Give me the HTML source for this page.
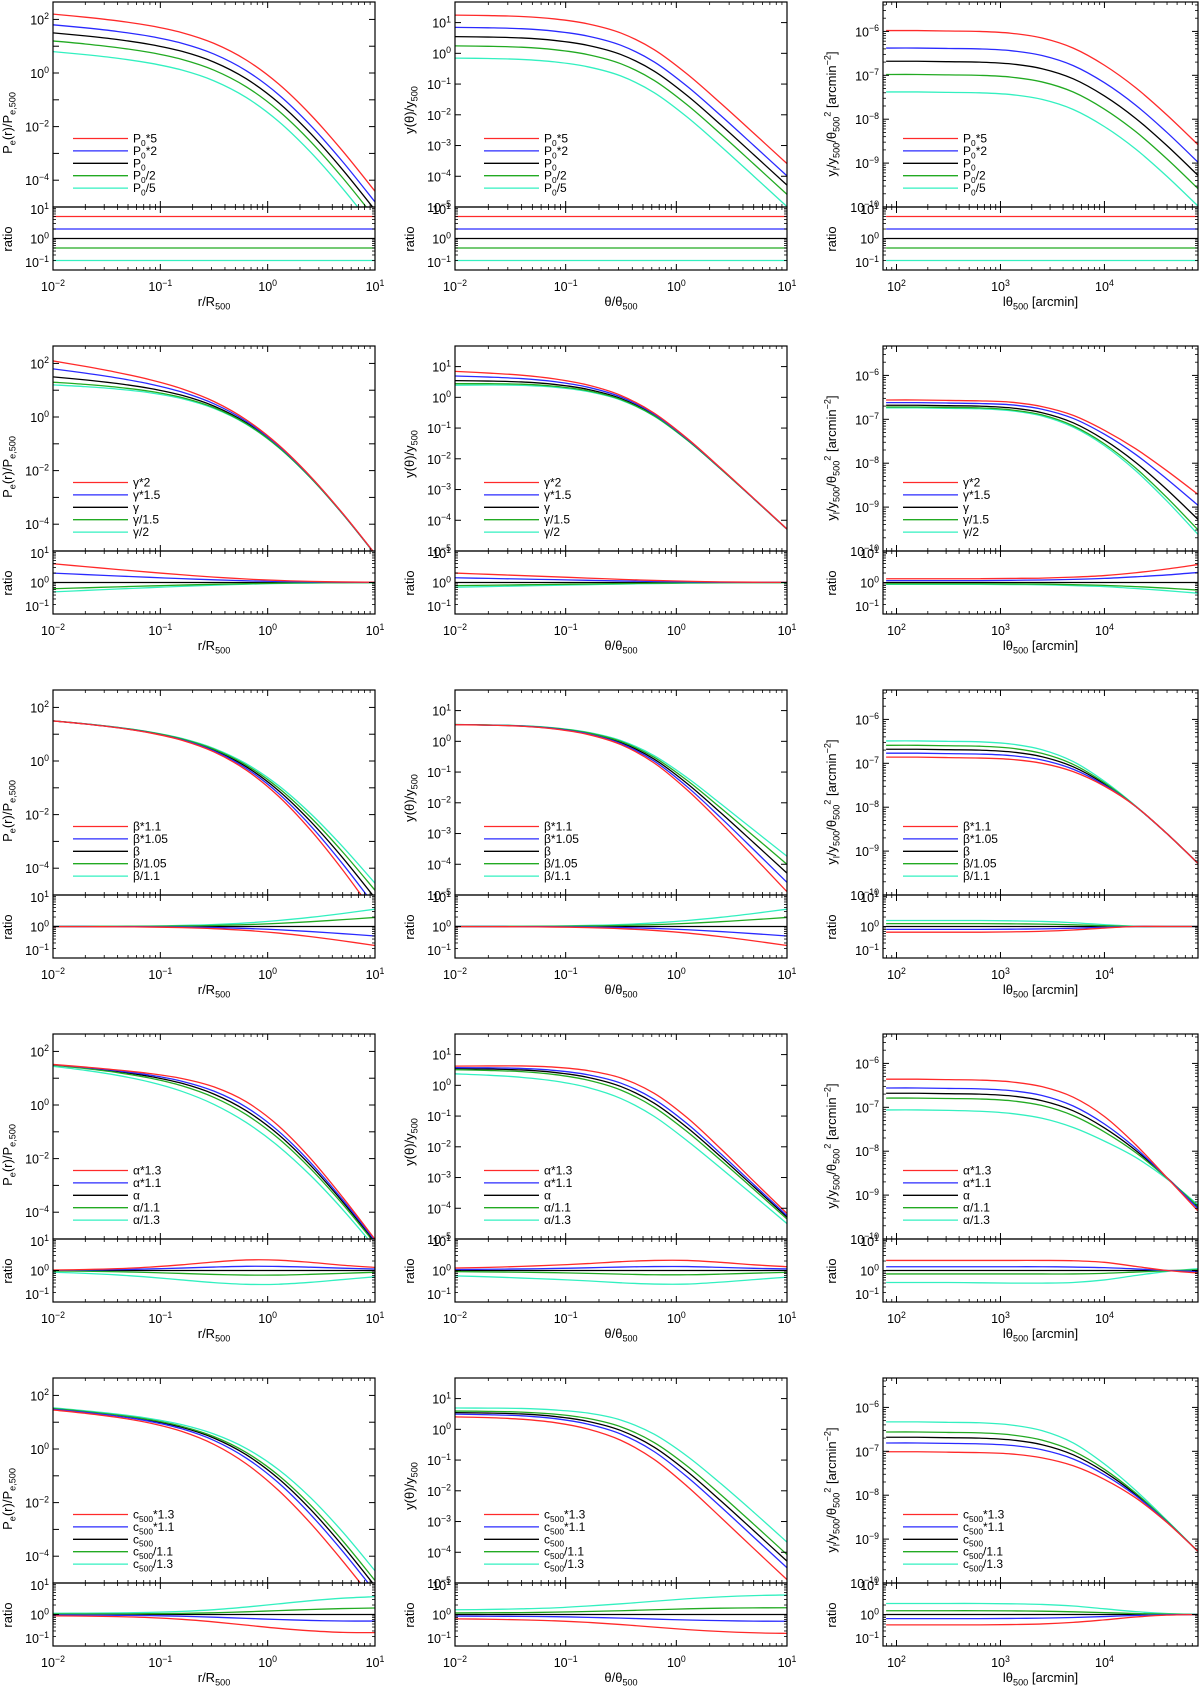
<!DOCTYPE html>
<html><head><meta charset="utf-8">
<style>
html,body{margin:0;padding:0;background:#fff;}
svg{display:block;font-family:"Liberation Sans",sans-serif;}
</style></head>
<body>
<svg id="fig" width="1200" height="1687" viewBox="0 0 1200 1687" xmlns="http://www.w3.org/2000/svg"></svg>
<script>
// ---------------- data (log10 values) ----------------
const xGrid = [-2,-1.7,-1.4,-1.1,-0.8,-0.5,-0.2,0.1,0.4,0.7,1.0];
const lGrid = [1.9,2.2,2.5,2.8,3.1,3.4,3.7,4.0,4.3,4.6,4.9];
const basePressure = [1.498,1.385,1.249,1.070,0.810,0.407,-0.213,-1.101,-2.256,-3.617,-5.112];
const baseComptonY = [0.544,0.53,0.50,0.42,0.26,-0.04,-0.58,-1.38,-2.32,-3.30,-4.29];
const baseYl = [-6.68,-6.68,-6.69,-6.70,-6.74,-6.85,-7.08,-7.47,-7.98,-8.60,-9.28];
const zeros = [0,0,0,0,0,0,0,0,0,0,0];

// row 1: P0
const p0Times5 = [0.699,0.699,0.699,0.699,0.699,0.699,0.699,0.699,0.699,0.699,0.699];
const p0Times2 = [0.301,0.301,0.301,0.301,0.301,0.301,0.301,0.301,0.301,0.301,0.301];
const p0Over2 = [-0.301,-0.301,-0.301,-0.301,-0.301,-0.301,-0.301,-0.301,-0.301,-0.301,-0.301];
const p0Over5 = [-0.699,-0.699,-0.699,-0.699,-0.699,-0.699,-0.699,-0.699,-0.699,-0.699,-0.699];

// row 2: gamma
const gamP_red = [.595,.504,.414,.327,.245,.171,.110,.065,.035,.018,.009];
const gamP_blue = [.298,.252,.207,.164,.122,.085,.055,.032,.018,.009,.005];
const gamP_green = [-.199,-.168,-.138,-.109,-.082,-.057,-.037,-.022,-.012,-.006,-.003];
const gamP_cyan = [-.298,-.252,-.207,-.164,-.122,-.085,-.055,-.032,-.018,-.009,-.005];
const gamY_red = [.30,.26,.22,.18,.14,.10,.065,.04,.02,.01,.005];
const gamY_blue = [.15,.13,.11,.09,.07,.05,.033,.02,.01,.005,.003];
const gamY_green = [-.10,-.087,-.073,-.06,-.047,-.033,-.022,-.013,-.007,-.003,-.002];
const gamY_cyan = [-.15,-.13,-.11,-.09,-.07,-.05,-.033,-.02,-.01,-.005,-.003];
const gamL_red = [.12,.12,.12,.12,.13,.14,.17,.22,.31,.43,.57];
const gamL_blue = [.06,.06,.06,.06,.07,.08,.10,.13,.18,.24,.32];
const gamL_green = [-.04,-.04,-.04,-.04,-.045,-.05,-.07,-.09,-.13,-.18,-.24];
const gamL_cyan = [-.06,-.06,-.06,-.06,-.065,-.075,-.10,-.13,-.19,-.26,-.34];

// row 3: beta
const betP_red = [-.002,-.004,-.009,-.018,-.036,-.069,-.125,-.209,-.322,-.456,-.604];
const betP_blue = [-.001,-.002,-.004,-.009,-.018,-.034,-.062,-.104,-.161,-.228,-.302];
const betP_green = [.001,.002,.004,.009,.017,.033,.059,.100,.153,.217,.288];
const betP_cyan = [.002,.004,.008,.016,.033,.062,.113,.190,.292,.414,.550];
const betL_red = [-.18,-.18,-.18,-.18,-.17,-.15,-.11,-.05,0,0,0];
const betL_blue = [-.09,-.09,-.09,-.09,-.085,-.075,-.055,-.025,0,0,0];
const betL_green = [.09,.09,.09,.09,.085,.075,.055,.025,0,0,0];
const betL_cyan = [.19,.19,.19,.19,.18,.16,.12,.06,.01,0,0];

// row 4: alpha
const alpP_red = [.016,.031,.059,.107,.181,.269,.335,.328,.257,.167,.100];
const alpP_blue = [.009,.016,.028,.049,.078,.110,.133,.129,.105,.074,.047];
const alpP_green = [-.014,-.024,-.039,-.063,-.093,-.125,-.145,-.145,-.121,-.090,-.057];
const alpP_cyan = [-.056,-.090,-.141,-.212,-.299,-.385,-.438,-.436,-.375,-.287,-.200];
const alpY_red = [.08,.10,.13,.17,.22,.28,.32,.32,.26,.18,.12];
const alpY_blue = [.03,.04,.05,.065,.085,.11,.125,.125,.10,.07,.05];
const alpY_green = [-.035,-.045,-.055,-.07,-.09,-.115,-.135,-.135,-.115,-.085,-.06];
const alpY_cyan = [-.17,-.20,-.24,-.28,-.33,-.39,-.43,-.43,-.37,-.29,-.21];
const alpL_red = [.32,.32,.32,.32,.32,.32,.31,.26,.13,0,-.08];
const alpL_blue = [.12,.12,.12,.12,.12,.12,.11,.09,.05,0,-.03];
const alpL_green = [-.11,-.11,-.11,-.11,-.11,-.11,-.11,-.09,-.05,-.01,.02];
const alpL_cyan = [-.38,-.38,-.38,-.39,-.40,-.40,-.38,-.30,-.16,-.03,.06];

// row 5: c500
const c5P_red = [-.043,-.052,-.068,-.099,-.153,-.236,-.337,-.439,-.517,-.568,-.576];
const c5P_blue = [-.016,-.019,-.025,-.036,-.056,-.086,-.123,-.159,-.188,-.206,-.209];
const c5P_green = [.014,.016,.019,.025,.036,.056,.086,.123,.159,.188,.206];
const c5P_cyan = [.040,.043,.052,.068,.099,.153,.236,.337,.439,.517,.568];
const c5Y_red = [-.14,-.15,-.17,-.20,-.25,-.32,-.40,-.48,-.54,-.58,-.60];
const c5Y_blue = [-.05,-.055,-.06,-.07,-.09,-.115,-.145,-.175,-.195,-.21,-.215];
const c5Y_green = [.05,.055,.06,.075,.095,.12,.15,.18,.20,.21,.215];
const c5Y_cyan = [.15,.16,.18,.21,.27,.34,.42,.50,.56,.60,.62];
const c5L_red = [-.33,-.33,-.33,-.33,-.32,-.30,-.25,-.17,-.08,-.02,0];
const c5L_blue = [-.13,-.13,-.13,-.13,-.125,-.115,-.095,-.065,-.03,-.01,0];
const c5L_green = [.12,.12,.12,.12,.115,.105,.085,.06,.03,.01,0];
const c5L_cyan = [.35,.35,.35,.35,.34,.32,.27,.18,.09,.03,0];

const legendParams = [["P","0"],["γ",""],["β",""],["α",""],["c","500"]];
const legendSuffixes = [["*5","*2","","/2","/5"],["*2","*1.5","","/1.5","/2"],["*1.1","*1.05","","/1.05","/1.1"],["*1.3","*1.1","","/1.1","/1.3"],["*1.3","*1.1","","/1.1","/1.3"]];
const rowKeys = ["p0","gamma","beta","alpha","c500"];

const ratioSets = [
  [[p0Times5,p0Times2,zeros,p0Over2,p0Over5],[p0Times5,p0Times2,zeros,p0Over2,p0Over5],[p0Times5,p0Times2,zeros,p0Over2,p0Over5]],
  [[gamP_red,gamP_blue,zeros,gamP_green,gamP_cyan],[gamY_red,gamY_blue,zeros,gamY_green,gamY_cyan],[gamL_red,gamL_blue,zeros,gamL_green,gamL_cyan]],
  [[betP_red,betP_blue,zeros,betP_green,betP_cyan],[betP_red,betP_blue,zeros,betP_green,betP_cyan],[betL_red,betL_blue,zeros,betL_green,betL_cyan]],
  [[alpP_red,alpP_blue,zeros,alpP_green,alpP_cyan],[alpY_red,alpY_blue,zeros,alpY_green,alpY_cyan],[alpL_red,alpL_blue,zeros,alpL_green,alpL_cyan]],
  [[c5P_red,c5P_blue,zeros,c5P_green,c5P_cyan],[c5Y_red,c5Y_blue,zeros,c5Y_green,c5Y_cyan],[c5L_red,c5L_blue,zeros,c5L_green,c5L_cyan]]
];
const bases = [basePressure, baseComptonY, baseYl];
const grids = [xGrid, xGrid, lGrid];

// ---------------- layout ----------------
const NS = "http://www.w3.org/2000/svg";
const svg = document.getElementById("fig");
const colors = ["#ff2a2a","#2a2aff","#000000","#22aa22","#33f0c0"];
const colorNames = ["red","blue","black","green","cyan"];
const cols = [
  {x0:53,x1:375,xr:[-2,1],yr:[-5,2.65],labs:[2,0,-2,-4],yMinor:false,xt:[-2,-1,0,1],legX:73,
   ytitle:[["P",""],["e","sub"],["(r)/P",""],["e,500","sub"]],ytx:12,yty:121,
   xtitle:[["r/R",""],["500","sub"]],rtx:12},
  {x0:455,x1:787,xr:[-2,1],yr:[-5,1.67],labs:[1,0,-1,-2,-3,-4,-5],yMinor:false,xt:[-2,-1,0,1],legX:484,
   ytitle:[["y(θ)/y",""],["500","sub"]],ytx:414,yty:108,
   xtitle:[["θ/θ",""],["500","sub"]],rtx:414},
  {x0:883,x1:1198,xr:[1.87,4.9],yr:[-10,-5.33],labs:[-6,-7,-8,-9,-10],yMinor:true,xt:[2,3,4],legX:903,
   ytitle:[["y",""],["l","sub"],["/y",""],["500","sub"],["/θ",""],["500","sub"],["2","sup"],[" [arcmin",""],["−2","sup"],["]",""]],ytx:836,yty:112,
   xtitle:[["lθ",""],["500","sub"],[" [arcmin]",""]],rtx:836}
];
const RR=[-1,1];

function el(tag, attrs, parent){
  const e=document.createElementNS(NS,tag);
  for(const k in attrs) e.setAttribute(k,attrs[k]);
  (parent||svg).appendChild(e);
  return e;
}
function richText(parent, x, y, segs, size, anchor, rot){
  const t=el("text",{x:x,y:y,"font-size":size,"text-anchor":anchor||"start",fill:"#000"},parent);
  if(rot) t.setAttribute("transform","rotate(-90 "+x+" "+y+")");
  let off=0;
  segs.forEach(s=>{
    const sp=document.createElementNS(NS,"tspan");
    const target = s[1]==="sub"?size*0.28:(s[1]==="sup"?-size*0.42:0);
    sp.setAttribute("dy",(target-off).toFixed(2));
    off=target;
    if(s[1]) sp.setAttribute("font-size",size*0.7);
    sp.textContent=s[0];
    t.appendChild(sp);
  });
  return t;
}
function expLabel(parent,x,y,e,anchor){
  const ex = e<0 ? "−"+(-e) : ""+e;
  return richText(parent,x,y,[["10",""],[ex,"sup"]],12.5,anchor);
}
function smoothPath(pts){
  let d="M"+pts[0][0].toFixed(2)+","+pts[0][1].toFixed(2);
  for(let i=0;i<pts.length-1;i++){
    const p0=pts[Math.max(0,i-1)],p1=pts[i],p2=pts[i+1],p3=pts[Math.min(pts.length-1,i+2)];
    const c1=[p1[0]+(p2[0]-p0[0])/6,p1[1]+(p2[1]-p0[1])/6];
    const c2=[p2[0]-(p3[0]-p1[0])/6,p2[1]-(p3[1]-p1[1])/6];
    d+=" C"+c1[0].toFixed(2)+","+c1[1].toFixed(2)+" "+c2[0].toFixed(2)+","+c2[1].toFixed(2)+" "+p2[0].toFixed(2)+","+p2[1].toFixed(2);
  }
  return d;
}
function ticksY(g,x0,x1,yTop,yBot,yr,minor){
  const sy=v=>yBot-(v-yr[0])/(yr[1]-yr[0])*(yBot-yTop);
  for(let e=Math.floor(yr[0]);e<=Math.ceil(yr[1]);e++){
    if(e>=yr[0]-1e-9&&e<=yr[1]+1e-9){
      const y=sy(e);
      el("line",{x1:x0,y1:y,x2:x0+6,y2:y,stroke:"#000","stroke-width":1},g);
      el("line",{x1:x1,y1:y,x2:x1-6,y2:y,stroke:"#000","stroke-width":1},g);
    }
    if(minor) for(let k=2;k<10;k++){
      const v=e+Math.log10(k);
      if(v>yr[0]&&v<yr[1]){
        const y=sy(v);
        el("line",{x1:x0,y1:y,x2:x0+3,y2:y,stroke:"#000","stroke-width":0.8},g);
        el("line",{x1:x1,y1:y,x2:x1-3,y2:y,stroke:"#000","stroke-width":0.8},g);
      }
    }
  }
}
function ticksX(g,x0,x1,yTop,yBot,xr){
  const sx=v=>x0+(v-xr[0])/(xr[1]-xr[0])*(x1-x0);
  for(let e=Math.floor(xr[0]);e<=Math.ceil(xr[1]);e++){
    if(e>=xr[0]-1e-9&&e<=xr[1]+1e-9){
      const x=sx(e);
      el("line",{x1:x,y1:yBot,x2:x,y2:yBot-6,stroke:"#000","stroke-width":1},g);
      el("line",{x1:x,y1:yTop,x2:x,y2:yTop+6,stroke:"#000","stroke-width":1},g);
    }
    for(let k=2;k<10;k++){
      const v=e+Math.log10(k);
      if(v>xr[0]&&v<xr[1]){
        const x=sx(v);
        el("line",{x1:x,y1:yBot,x2:x,y2:yBot-3,stroke:"#000","stroke-width":0.8},g);
        el("line",{x1:x,y1:yTop,x2:x,y2:yTop+3,stroke:"#000","stroke-width":0.8},g);
      }
    }
  }
}

let clipId=0;
for(let r=0;r<5;r++){
  const top=2+344*r, mainBot=top+205, ratBot=top+268;
  for(let c=0;c<3;c++){
    const C=cols[c];
    const g=el("g",{});
    
    
    const sx=v=>C.x0+(v-C.xr[0])/(C.xr[1]-C.xr[0])*(C.x1-C.x0);
    const syM=v=>mainBot-(v-C.yr[0])/(C.yr[1]-C.yr[0])*(mainBot-top);
    const syR=v=>ratBot-(v-RR[0])/(RR[1]-RR[0])*(ratBot-mainBot);
    const defs=el("defs",{},g);
    const cm=el("clipPath",{id:"cm"+clipId},defs);
    el("rect",{x:C.x0,y:top,width:C.x1-C.x0,height:mainBot-top},cm);
    const cr=el("clipPath",{id:"cr"+clipId},defs);
    el("rect",{x:C.x0,y:mainBot,width:C.x1-C.x0,height:ratBot-mainBot},cr);
    const gm=el("g",{"clip-path":"url(#cm"+clipId+")"},g);
    
    
    const gr=el("g",{"clip-path":"url(#cr"+clipId+")"},g);
    
    
    clipId++;
    const grid=grids[c], base=bases[c], rats=ratioSets[r][c];
    const order=[2,4,3,1,0];
    order.forEach(s=>{
      const ptsM=grid.map((xv,i)=>[sx(xv),syM(base[i]+rats[s][i])]);
      const pm=el("path",{d:smoothPath(ptsM),fill:"none",stroke:colors[s],"stroke-width":1.3},gm);
      
      
      const ptsR=grid.map((xv,i)=>[sx(xv),syR(rats[s][i])]);
      const pr=el("path",{d:smoothPath(ptsR),fill:"none",stroke:colors[s],"stroke-width":1.3},gr);
      
      
    });
    const fm=el("rect",{x:C.x0,y:top,width:C.x1-C.x0,height:mainBot-top,fill:"none",stroke:"#000","stroke-width":1.2},g);
    
    
    const fr=el("rect",{x:C.x0,y:mainBot,width:C.x1-C.x0,height:ratBot-mainBot,fill:"none",stroke:"#000","stroke-width":1.2},g);
    
    
    ticksY(g,C.x0,C.x1,top,mainBot,C.yr,C.yMinor);
    ticksY(g,C.x0,C.x1,mainBot,ratBot,RR,true);
    ticksX(g,C.x0,C.x1,top,mainBot,C.xr);
    ticksX(g,C.x0,C.x1,mainBot,ratBot,C.xr);
    C.labs.forEach(e=>{
      const t=expLabel(g,C.x0-4,syM(e)+5,e,"end");
      
      
    });
    [1,0,-1].forEach(e=>{
      const yy = e===1? syR(e)+7 : (e===-1? syR(e)-3 : syR(e)+5);
      const t=expLabel(g,C.x0-4,yy,e,"end");
      
      
    });
    C.xt.forEach(e=>{
      const t=expLabel(g,sx(e),ratBot+21,e,"middle");
      
      
    });
    const yt=richText(g,C.ytx,top+C.yty,C.ytitle,13,"middle",true);
    
    
    const rt=richText(g,C.rtx,top+237,[["ratio",""]],13,"middle",true);
    
    
    const xt=richText(g,(C.x0+C.x1)/2,ratBot+36,C.xtitle,13,"middle");
    
    
    const lg=el("g",{},g);
    
    
    for(let s=0;s<5;s++){
      const ly=top+136.5+12.4*s;
      const ln=el("line",{x1:C.legX,y1:ly,x2:C.legX+55,y2:ly,stroke:colors[s],"stroke-width":1.3},lg);
      
      
      const P=legendParams[r];
      const segs=[[P[0],""]];
      if(P[1]) segs.push([P[1],"sub"]);
      if(legendSuffixes[r][s]) segs.push([legendSuffixes[r][s],""]);
      const lt=richText(lg,C.legX+60,ly+4,segs,12,"start");
      
      
    }
  }
}
</script>
</body></html>
